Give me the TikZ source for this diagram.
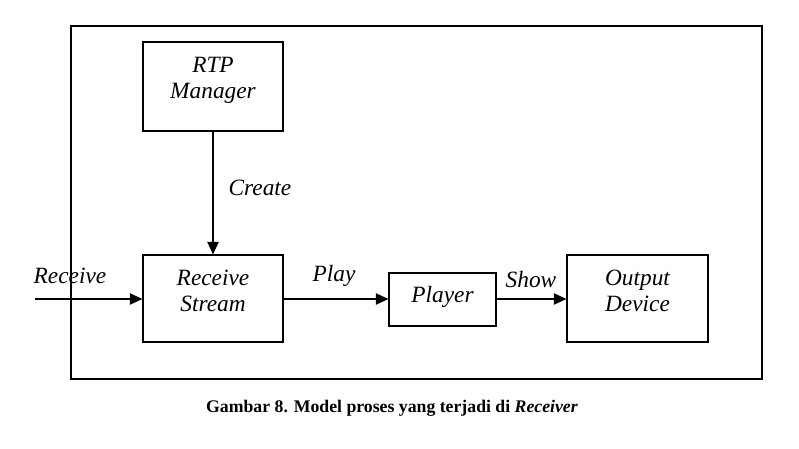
\documentclass[tikz,border=0pt]{standalone}
\usepackage{fontspec}
\setmainfont{Liberation Serif}
\usetikzlibrary{arrows.meta}
\begin{document}
\begin{tikzpicture}[x=0.75pt,y=-0.75pt,
  box/.style={draw,line width=0.8pt,inner sep=0pt},
  lbl/.style={font=\fontsize{17.5}{19.5}\selectfont\itshape,align=center,inner sep=0pt},
  conn/.style={line width=1pt,-{Triangle[length=9.5pt,width=8.5pt]}}]
\useasboundingbox (0,0) rectangle (799,449);
\node[box,minimum width=518.25pt,minimum height=264.75pt] (frame) at (416.5,202.5) {};
\node[box,minimum width=105pt,minimum height=66.75pt] (rtp) at (213,86.5) {};
\node[box,minimum width=105pt,minimum height=65.25pt] (rs) at (213,298.5) {};
\node[box,minimum width=80.25pt,minimum height=39.75pt] (pl) at (442.5,299.5) {};
\node[box,minimum width=105.75pt,minimum height=65.25pt] (od) at (637.5,298.5) {};
\node[lbl] (trtp) at (213,80) {RTP\\Manager};
\node[lbl] (trs) at (213,291) {Receive\\Stream};
\node[lbl] (tpl) at (442.5,297) {Player};
\node[lbl] (tod) at (637.5,291) {Output\\Device};
\coordinate (src) at (35,299);
\draw[conn] (rtp.south) -- (rs.north);
\draw[conn] (src) -- (src -| rs.west);
\draw[conn] (rs.east |- src) -- (pl.west |- src);
\draw[conn] (pl.east |- src) -- (od.west |- src);
\node[lbl] (lcreate) at (260,188) {Create};
\node[lbl] (lreceive) at (70,276) {Receive};
\node[lbl] (lplay) at (334,276) {Play};
\node[lbl] (lshow) at (531,280) {Show};
\node[font=\fontsize{13.3}{15}\selectfont\bfseries,inner sep=0pt] (cap) at (392,408) {Gambar 8. Model proses yang terjadi di \textit{Receiver}};
\end{tikzpicture}
\end{document}
